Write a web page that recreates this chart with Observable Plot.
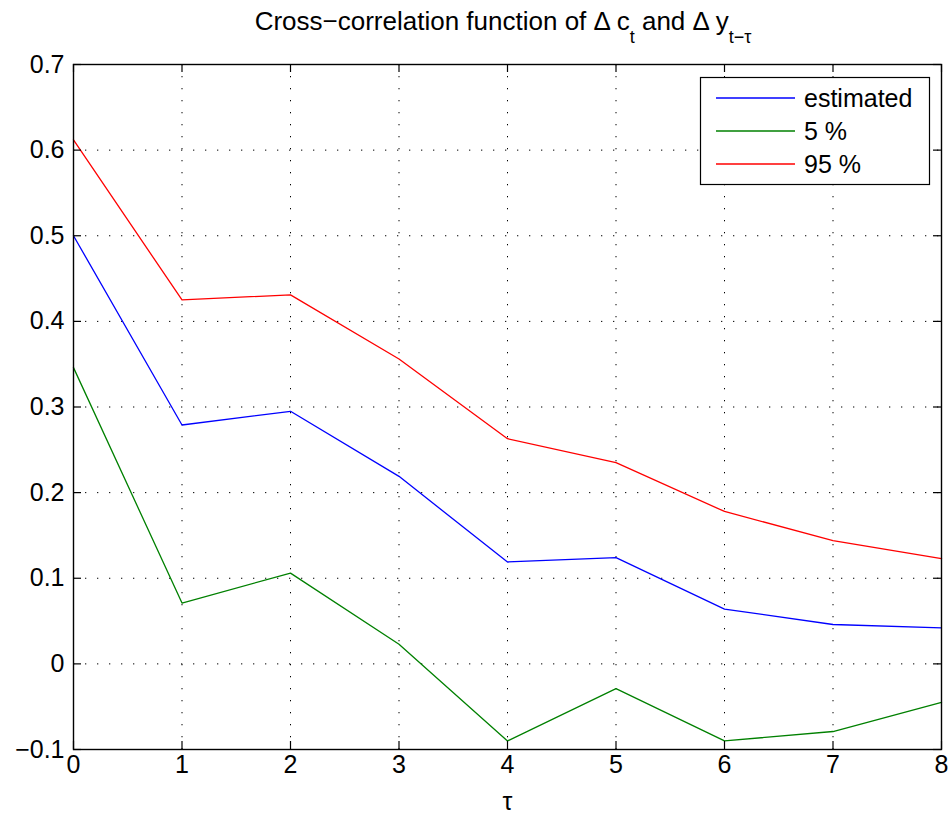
<!DOCTYPE html>
<html>
<head>
<meta charset="utf-8">
<script src="https://cdn.jsdelivr.net/npm/d3@7"></script>
<script src="https://cdn.jsdelivr.net/npm/@observablehq/plot@0.6"></script>
<style>
  body { margin: 0; background: #fff; }
</style>
</head>
<body>
<div id="chart"></div>
<script>
// ---- data ----
const lags = [0, 1, 2, 3, 4, 5, 6, 7, 8];
const estimated = [0.500, 0.279, 0.295, 0.219, 0.119, 0.124, 0.064, 0.046, 0.042];
const pct5 = [0.346, 0.071, 0.106, 0.023, -0.090, -0.029, -0.090, -0.079, -0.045];
const pct95 = [0.612, 0.425, 0.431, 0.356, 0.263, 0.235, 0.178, 0.144, 0.123];
const seriesNames = ["estimated", "5 %", "95 %"];
const seriesColors = ["#0000ff", "#008000", "#ff0000"];
const xTicks = [0, 1, 2, 3, 4, 5, 6, 7, 8];
const yTicks = [-0.1, 0, 0.1, 0.2, 0.3, 0.4, 0.5, 0.6, 0.7];
const titleMain = ["Cross\u2212correlation function of \u0394 c", "t", " and \u0394 y", "t\u2212\u03c4"];
const xLabel = "\u03c4";

// ---- table for Plot ----
const seriesValues = [estimated, pct5, pct95];
const rows = [];
seriesNames.forEach((name, i) => {
  lags.forEach((lag, j) => rows.push({ lag, value: seriesValues[i][j], series: name }));
});

const W = 951, H = 815;
const mt = 64, mb = 66, ml = 73, mr = 10;
const fw = W - ml - mr, fh = H - mt - mb;
const tickLen = 8;
const font = "Liberation Sans, Arial, Helvetica, sans-serif";
const fmt = d => (d < 0 ? "\u2212" : "") + String(Math.abs(d));

const chart = Plot.plot({
  width: W,
  height: H,
  marginTop: mt,
  marginBottom: mb,
  marginLeft: ml,
  marginRight: mr,
  style: { fontFamily: font, fontSize: "25px", background: "#fff", color: "#000" },
  x: { domain: [0, 8], ticks: xTicks, tickSize: 0, tickPadding: 6, tickFormat: fmt, label: null },
  y: { domain: [-0.1, 0.7], ticks: yTicks, tickSize: 0, tickPadding: 9, tickFormat: fmt, label: null },
  color: { domain: seriesNames, range: seriesColors },
  marks: [
    // dotted grid
    Plot.ruleX(xTicks, { x: d => d, stroke: "#000", strokeWidth: 1, strokeDasharray: "1.3 10.7" }),
    Plot.ruleY(yTicks, { y: d => d, stroke: "#000", strokeWidth: 1, strokeDasharray: "1.3 10.7" }),
    // series
    Plot.line(rows, { x: "lag", y: "value", z: "series", stroke: "series", strokeWidth: 1.3 }),
    // inward ticks
    Plot.ruleX(xTicks, { x: d => d, insetTop: fh - tickLen, stroke: "#000", strokeWidth: 1.2 }),
    Plot.ruleX(xTicks, { x: d => d, insetBottom: fh - tickLen, stroke: "#000", strokeWidth: 1.2 }),
    Plot.ruleY(yTicks, { y: d => d, insetRight: fw - tickLen, stroke: "#000", strokeWidth: 1.2 }),
    Plot.ruleY(yTicks, { y: d => d, insetLeft: fw - tickLen, stroke: "#000", strokeWidth: 1.2 }),
    Plot.frame({ stroke: "#000", strokeWidth: 1.4 }),
    // x label
    Plot.text([xLabel], { text: d => d, frameAnchor: "bottom", dy: 52, lineAnchor: "middle", fontSize: 25 })
  ]
});

document.getElementById("chart").appendChild(chart);

// title with subscripts
const svg = d3.select(chart);
const t = svg.append("text")
  .attr("x", 503).attr("y", 30)
  .attr("text-anchor", "middle")
  .attr("font-family", font)
  .attr("font-size", 26)
  .attr("fill", "#000");
t.append("tspan").text(titleMain[0]);
t.append("tspan").attr("dy", 13).attr("font-size", 18).text(titleMain[1]);
t.append("tspan").attr("dy", -13).text(titleMain[2]);
t.append("tspan").attr("dy", 13).attr("font-size", 18).text(titleMain[3]);

// legend
const lg = svg.append("g");
lg.append("rect")
  .attr("x", 700.5).attr("y", 77.5).attr("width", 229).attr("height", 107)
  .attr("fill", "#fff").attr("stroke", "#000").attr("stroke-width", 1.2);
const rowY = [98, 131, 164];
seriesNames.forEach((name, i) => {
  lg.append("line")
    .attr("x1", 716).attr("x2", 795).attr("y1", rowY[i]).attr("y2", rowY[i])
    .attr("stroke", seriesColors[i]).attr("stroke-width", 1.3);
  lg.append("text")
    .attr("x", 804).attr("y", rowY[i] + 9)
    .attr("text-anchor", "start")
    .attr("font-family", font).attr("font-size", 25).attr("fill", "#000")
    .text(name);
});
</script>
</body>
</html>
